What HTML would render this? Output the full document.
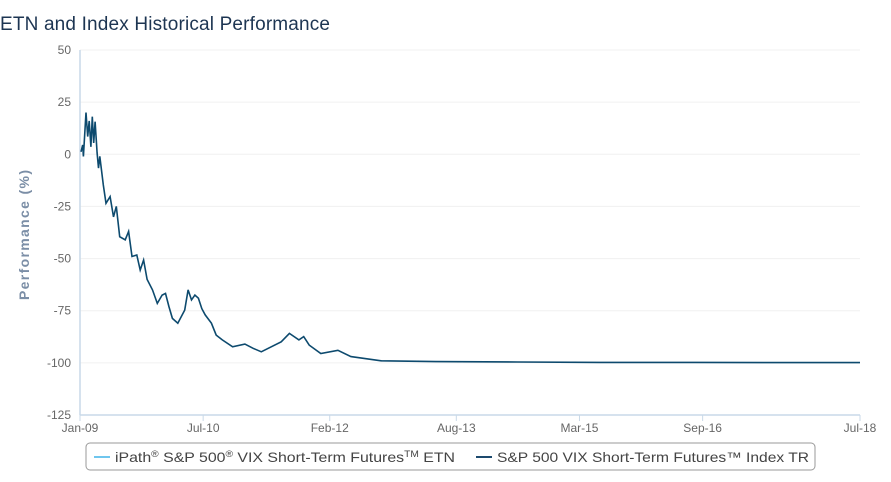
<!DOCTYPE html>
<html><head><meta charset="utf-8"><style>
body{margin:0;background:#fff;font-family:"Liberation Sans",sans-serif;}
svg text{font-family:"Liberation Sans",sans-serif;}
</style></head><body>
<svg width="891" height="477" xmlns="http://www.w3.org/2000/svg">
<text x="0" y="30" font-size="19" fill="#1d3552" textLength="330">ETN and Index Historical Performance</text>
<g id="grid"></g>
<g id="yt"></g>
<g id="xt"></g>
<text transform="translate(29,235) rotate(-90)" text-anchor="middle" font-size="14" font-weight="bold" fill="#7b8ea6" textLength="130">Performance (%)</text>
<path id="line" fill="none" stroke="#0d4a6e" stroke-width="1.6"/>
<g>
<rect x="86" y="443" width="729" height="27" rx="4" fill="#fff" stroke="#999"/>
<line x1="94" y1="457" x2="110" y2="457" stroke="#6fc6ee" stroke-width="2"/>
<text x="115" y="462" font-size="14" fill="#444" textLength="340" lengthAdjust="spacingAndGlyphs">iPath<tspan font-size="9" dy="-5">®</tspan><tspan dy="5"> S&amp;P 500</tspan><tspan font-size="9" dy="-5">®</tspan><tspan dy="5"> VIX Short-Term Futures</tspan><tspan font-size="9" dy="-5">TM</tspan><tspan dy="5"> ETN</tspan></text>
<line x1="476" y1="457" x2="492" y2="457" stroke="#1d4a6e" stroke-width="2"/>
<text x="497" y="462" font-size="14" fill="#444" textLength="312" lengthAdjust="spacingAndGlyphs">S&amp;P 500 VIX Short-Term Futures™ Index TR</text>
</g>
</svg>
<script>
const yTicks=[50,25,0,-25,-50,-75,-100,-125];
const xTickLabels=["Jan-09","Jul-10","Feb-12","Aug-13","Mar-15","Sep-16","Jul-18"];
const xTickMonths=[0,18,36.5,55,73,91,114];
const months=[0.15,0.4,0.5,0.88,1.12,1.35,1.6,1.8,2.0,2.2,2.5,2.7,2.9,3.4,3.8,4.4,4.9,5.3,5.8,6.6,7.1,7.6,8.3,8.8,9.3,9.8,10.6,11.3,12.0,12.5,13.0,13.5,14.3,15.3,15.8,16.3,16.8,17.3,17.8,18.3,19.2,19.9,20.8,22.3,24.1,25.3,26.5,29.4,30.6,32.0,32.7,33.5,35.2,37.7,39.6,44,52,64,76,90,104,114];
const values=[1.2,4.5,-1,20,8.5,16,3.6,18,5.4,15.6,0.6,-6.6,-1,-14.7,-23.5,-20.3,-30,-25,-39.5,-41,-37,-49,-48.3,-55.5,-50.7,-60,-65,-71.5,-67.5,-66.7,-73,-78.7,-81,-74.7,-65,-69.8,-67.5,-69,-74,-77,-81,-86.7,-89,-92.3,-91,-93,-94.7,-89.9,-85.9,-89,-87.4,-91.5,-95.5,-94,-97,-99,-99.4,-99.6,-99.8,-99.8,-99.9,-99.9];
const X0=80,X1=860,Y0=50,Y1=415;
const xs=m=>X0+(X1-X0)*m/114;
const ys=v=>Y0+(Y1-Y0)*(50-v)/175;
const NS="http://www.w3.org/2000/svg";
const grid=document.getElementById('grid'),yt=document.getElementById('yt'),xt=document.getElementById('xt');
function mk(tag,attrs,parent){const e=document.createElementNS(NS,tag);for(const k in attrs)e.setAttribute(k,attrs[k]);parent.appendChild(e);return e;}
yTicks.forEach(v=>{
  const g=mk('line',{x1:X0,x2:X1,y1:ys(v),y2:ys(v),stroke:'#f0f0f0'},grid);
  
  
  const t=mk('text',{x:71,y:ys(v)+4,'text-anchor':'end','font-size':12,fill:'#666'},yt);
  t.textContent=v;
  
  
});
const ax=mk('line',{x1:X0,x2:X0,y1:Y0,y2:Y1,stroke:'#c9d9e8','stroke-width':1.5},yt);


const bx=mk('line',{x1:X0,x2:X1,y1:Y1,y2:Y1,stroke:'#c9d9e8','stroke-width':1.5},xt);


xTickMonths.forEach((m,i)=>{
  const tk=mk('line',{x1:xs(m),x2:xs(m),y1:Y1,y2:Y1+6,stroke:'#c9d9e8'},xt);
  
  
  const t=mk('text',{x:xs(m),y:Y1+17,'text-anchor':'middle','font-size':12,fill:'#666'},xt);
  t.textContent=xTickLabels[i];
  
  
});
document.getElementById('line').setAttribute('d',months.map((m,i)=>(i?'L':'M')+xs(m).toFixed(1)+','+ys(values[i]).toFixed(1)).join(''));
</script>
</body></html>
